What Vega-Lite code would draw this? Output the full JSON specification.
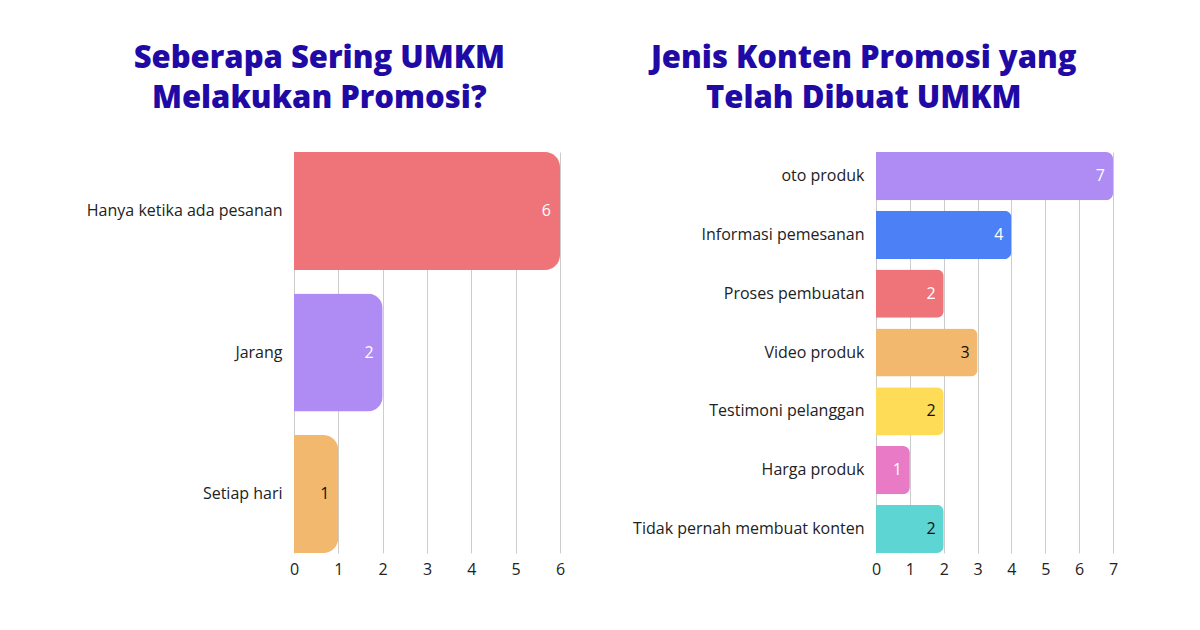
{
  "$schema": "https://vega.github.io/schema/vega-lite/v6.json",
  "datasets": {
    "frekuensi": [
      {"kategori": "Hanya ketika ada pesanan", "jumlah": 6},
      {"kategori": "Jarang", "jumlah": 2},
      {"kategori": "Setiap hari", "jumlah": 1}
    ],
    "konten": [
      {"kategori": "oto produk", "jumlah": 7},
      {"kategori": "Informasi pemesanan", "jumlah": 4},
      {"kategori": "Proses pembuatan", "jumlah": 2},
      {"kategori": "Video produk", "jumlah": 3},
      {"kategori": "Testimoni pelanggan", "jumlah": 2},
      {"kategori": "Harga produk", "jumlah": 1},
      {"kategori": "Tidak pernah membuat konten", "jumlah": 2}
    ]
  },
  "padding": {"left": 74, "top": 43, "right": 0, "bottom": 10},
  "spacing": 61,
  "resolve": {"scale": {"color": "independent", "x": "independent", "y": "independent"}},
  "hconcat": [
    {
      "width": 266,
      "height": 401,
      "data": {"name": "frekuensi"},
      "title": {"text": ["Seberapa Sering UMKM", "Melakukan Promosi?"], "anchor": "middle", "frame": "bounds"},
      "encoding": {
        "y": {
          "field": "kategori", "type": "nominal", "sort": null,
          "scale": {"paddingInner": 0.166, "paddingOuter": 0},
          "axis": {"title": null, "minExtent": 220, "maxExtent": 220}
        },
        "x": {
          "field": "jumlah", "type": "quantitative",
          "scale": {"domain": [0, 6], "nice": false},
          "axis": {"title": null, "values": [0, 1, 2, 3, 4, 5, 6]}
        }
      },
      "layer": [
        {
          "mark": {"type": "bar", "cornerRadiusEnd": 15},
          "encoding": {
            "color": {
              "field": "kategori", "type": "nominal", "legend": null,
              "scale": {
                "domain": ["Hanya ketika ada pesanan", "Jarang", "Setiap hari"],
                "range": ["#EF747A", "#AE8CF4", "#F2B86D"]
              }
            }
          }
        },
        {
          "mark": {"type": "text", "align": "right", "baseline": "middle", "dx": -9, "fontSize": 16, "font": "Open Sans"},
          "encoding": {
            "text": {"field": "jumlah"},
            "color": {
              "condition": {"test": "datum.kategori === 'Setiap hari'", "value": "#111111"},
              "value": "#ffffff"
            }
          }
        }
      ]
    },
    {
      "width": 237,
      "height": 401,
      "data": {"name": "konten"},
      "title": {"text": ["Jenis Konten Promosi yang", "Telah Dibuat UMKM"], "anchor": "middle", "frame": "bounds", "dx": -8},
      "encoding": {
        "y": {
          "field": "kategori", "type": "nominal", "sort": null,
          "scale": {"paddingInner": 0.18, "paddingOuter": 0},
          "axis": {"title": null, "minExtent": 250, "maxExtent": 250}
        },
        "x": {
          "field": "jumlah", "type": "quantitative",
          "scale": {"domain": [0, 7], "nice": false},
          "axis": {"title": null, "values": [0, 1, 2, 3, 4, 5, 6, 7]}
        }
      },
      "layer": [
        {
          "mark": {"type": "bar", "cornerRadiusEnd": 7},
          "encoding": {
            "color": {
              "field": "kategori", "type": "nominal", "legend": null,
              "scale": {
                "domain": ["oto produk", "Informasi pemesanan", "Proses pembuatan", "Video produk", "Testimoni pelanggan", "Harga produk", "Tidak pernah membuat konten"],
                "range": ["#AE8CF4", "#4B80F7", "#EF747A", "#F2B86D", "#FEDC57", "#E87AC6", "#5CD5D3"]
              }
            }
          }
        },
        {
          "mark": {"type": "text", "align": "right", "baseline": "middle", "dx": -8, "fontSize": 16, "font": "Open Sans"},
          "encoding": {
            "text": {"field": "jumlah"},
            "color": {
              "condition": {"test": "indexof(['Video produk', 'Testimoni pelanggan', 'Tidak pernah membuat konten'], datum.kategori) >= 0", "value": "#111111"},
              "value": "#ffffff"
            }
          }
        }
      ]
    }
  ],
  "config": {
    "font": "Open Sans",
    "view": {"stroke": null},
    "title": {
      "font": "Open Sans",
      "fontSize": 31,
      "fontWeight": 800,
      "color": "#1F0AA6",
      "lineHeight": 40,
      "offset": 37
    },
    "axis": {
      "domain": false,
      "ticks": false,
      "labelFont": "Open Sans",
      "labelFontSize": 16,
      "labelColor": "#222222",
      "labelLimit": 400,
      "gridColor": "#cccccc",
      "gridWidth": 1
    },
    "axisY": {"grid": false, "labelPadding": 12},
    "axisX": {"grid": true, "labelPadding": 8, "labelFlush": false}
  }
}
